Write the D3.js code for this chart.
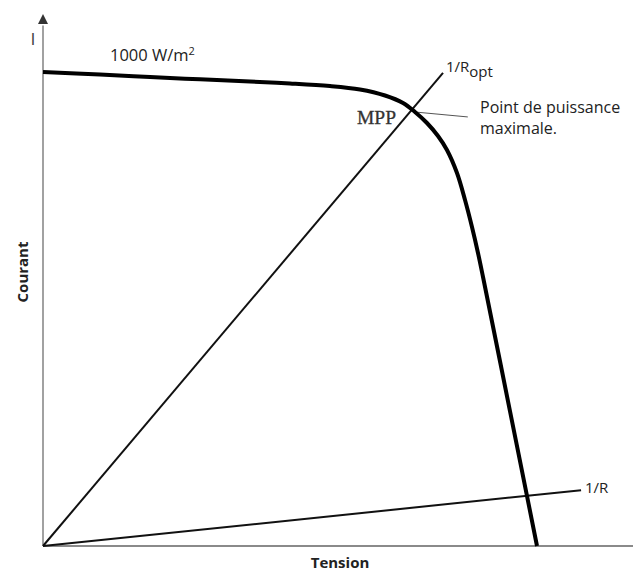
<!DOCTYPE html>
<html>
<head>
<meta charset="utf-8">
<script src="https://cdn.jsdelivr.net/npm/d3@7"></script>
<style>
html,body{margin:0;padding:0;background:#fff;}
svg{display:block;}
text{font-family:"Open Sans","Noto Sans",sans-serif;fill:#222;}
</style>
</head>
<body>
<svg id="chart" width="633" height="574"></svg>
<script>
// I-V curve of the panel at 1000 W/m² (arbitrary units)
const voltage = [0, 9.66, 18.14, 26.61, 35.08, 41.86, 48.64, 53.73, 57.97, 61.02, 63.05, 65.08, 66.95, 68.47, 70.17, 71.53, 72.71, 73.73, 74.58, 79.15, 83.73];
const current = [89.27, 88.78, 88.32, 87.89, 87.48, 87.12, 86.63, 85.97, 84.84, 83.43, 81.73, 79.66, 77.21, 74.58, 70.24, 65.16, 60.08, 55.18, 50.66, 25.42, 0];
// load lines through the origin
const loadOptV = [0, 67.8];
const loadOptI = [0, 89.1];
const loadV = [0, 91.2];
const loadI = [0, 10.5];
// maximum power point and its pointer
const mppV = [63.05, 72.0];
const mppI = [81.73, 80.8];
const xDomain = [0, 100];
const yDomain = [0, 100];

const svg = d3.select("#chart");
const x = d3.scaleLinear().domain(xDomain).range([43, 633]);
const y = d3.scaleLinear().domain(yDomain).range([546, 15]);

// axes
svg.append("line").attr("x1", x(0)).attr("x2", x(100)).attr("y1", y(0)).attr("y2", y(0))
  .attr("stroke", "#8a8a8a").attr("stroke-width", 2);
svg.append("line").attr("x1", x(0)).attr("x2", x(0)).attr("y1", y(0)).attr("y2", y(98))
  .attr("stroke", "#8a8a8a").attr("stroke-width", 1.6);
svg.append("path")
  .attr("d", `M${x(0)},${y(100) - 1} L${x(0) - 5},${y(98.3)} L${x(0) + 5},${y(98.3)} Z`)
  .attr("fill", "#333");

const line = d3.line().x(d => x(d[0])).y(d => y(d[1]));

// load lines
svg.append("path").datum(d3.zip(loadOptV, loadOptI)).attr("d", line)
  .attr("stroke", "#111").attr("stroke-width", 2).attr("fill", "none");
svg.append("path").datum(d3.zip(loadV, loadI)).attr("d", line)
  .attr("stroke", "#111").attr("stroke-width", 2).attr("fill", "none");

// pointer
svg.append("path").datum(d3.zip(mppV, mppI)).attr("d", line)
  .attr("stroke", "#555").attr("stroke-width", 1).attr("fill", "none");

// I-V curve
svg.append("path").datum(d3.zip(voltage, current))
  .attr("d", d3.line().x(d => x(d[0])).y(d => y(d[1])).curve(d3.curveCatmullRom.alpha(0.5)))
  .attr("stroke", "#000").attr("stroke-width", 4).attr("fill", "none")
  .attr("stroke-linejoin", "round");

// texts
svg.append("text").attr("x", 33).attr("y", 45).attr("text-anchor", "middle")
  .attr("transform", "rotate(0.01 33 40)")
  .style("font-family", "'DejaVu Sans',sans-serif").style("font-size", "15px")
  .style("fill", "#444").text("I");

const irr = svg.append("text").attr("x", 110).attr("y", 61).style("font-size", "16.5px");
irr.append("tspan").text("1000 W/m");
irr.append("tspan").attr("dy", -6).style("font-size", "11px").text("2");

const ropt = svg.append("text").attr("x", 446).attr("y", 72).style("font-size", "15px");
ropt.append("tspan").text("1/R");
ropt.append("tspan").attr("dy", 5).text("opt");

svg.append("text").attr("x", 585).attr("y", 493).style("font-size", "15px").text("1/R");

svg.append("text").attr("x", 357).attr("y", 124)
  .style("font-family", "'Liberation Serif','DejaVu Serif',serif").style("font-size", "19.5px")
  .style("fill", "#333").style("stroke", "#333").style("stroke-width", 0.3).text("MPP");

svg.append("text").attr("x", 480).attr("y", 113).style("font-size", "16px").text("Point de puissance");
svg.append("text").attr("x", 480).attr("y", 134).style("font-size", "16px").text("maximale.");

svg.append("text").attr("x", 340).attr("y", 568).attr("text-anchor", "middle")
  .style("font-size", "15px").style("font-weight", "bold").text("Tension");

svg.append("text").attr("transform", "translate(28,272) rotate(-90)").attr("text-anchor", "middle")
  .style("font-size", "15px").style("font-weight", "bold").text("Courant");
</script>
</body>
</html>
